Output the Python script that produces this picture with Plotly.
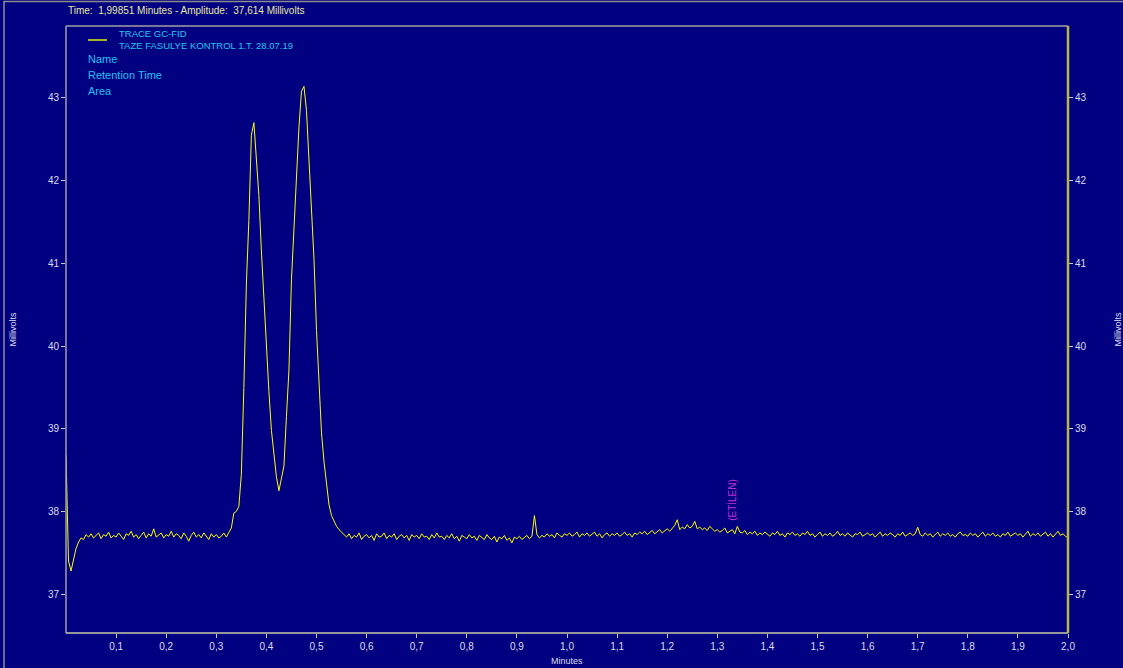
import numpy as np
import plotly.graph_objects as go

# ---------------- data ----------------
sample_interval_min = 0.005
signal_mv = [
    38.68, 37.40, 37.28, 37.42, 37.55, 37.63, 37.68, 37.66, 37.72, 37.69,
    37.73, 37.68, 37.71, 37.74, 37.67, 37.72, 37.70, 37.75, 37.68, 37.71,
    37.69, 37.74, 37.70, 37.66, 37.73, 37.71, 37.76, 37.69, 37.72, 37.67,
    37.71, 37.75, 37.68, 37.73, 37.70, 37.79, 37.69, 37.72, 37.74, 37.68,
    37.72, 37.70, 37.76, 37.69, 37.73, 37.71, 37.67, 37.74, 37.70, 37.64,
    37.71, 37.75, 37.69, 37.72, 37.68, 37.74, 37.70, 37.66, 37.73, 37.69,
    37.72, 37.68, 37.70, 37.74, 37.69, 37.74, 37.80, 37.98, 38.00, 38.06,
    38.45, 39.50, 40.75, 41.52, 42.55, 42.70, 42.30, 41.82, 41.15, 40.55,
    40.05, 39.45, 38.98, 38.71, 38.42, 38.25, 38.38, 38.55, 39.15, 39.71,
    40.80, 41.44, 42.05, 42.65, 43.08, 43.14, 42.85, 42.25, 41.72, 41.05,
    40.19, 39.53, 38.95, 38.60, 38.30, 38.08, 37.95, 37.88, 37.82, 37.78,
    37.75, 37.72, 37.69, 37.73, 37.67, 37.71, 37.69, 37.74, 37.66, 37.70,
    37.72, 37.68, 37.71, 37.65, 37.73, 37.69, 37.70, 37.74, 37.67, 37.71,
    37.69, 37.73, 37.66, 37.70, 37.72, 37.68, 37.71, 37.65, 37.72, 37.69,
    37.71, 37.67, 37.73, 37.69, 37.70, 37.66, 37.72, 37.68, 37.74, 37.69,
    37.70, 37.66, 37.71, 37.68, 37.73, 37.67, 37.70, 37.64, 37.71, 37.69,
    37.67, 37.72, 37.68, 37.70, 37.65, 37.71, 37.69, 37.66, 37.72, 37.68,
    37.66, 37.70, 37.63, 37.69, 37.67, 37.71, 37.65, 37.68, 37.62, 37.69,
    37.67, 37.70, 37.66, 37.69, 37.71, 37.67, 37.70, 37.95, 37.72, 37.68,
    37.71, 37.69, 37.73, 37.70, 37.72, 37.68, 37.74, 37.71, 37.69, 37.73,
    37.71, 37.74, 37.70, 37.72, 37.75, 37.69, 37.73, 37.71, 37.74, 37.70,
    37.72, 37.75, 37.70, 37.73, 37.68, 37.72, 37.74, 37.70, 37.73, 37.71,
    37.74, 37.70, 37.72, 37.75, 37.71, 37.73, 37.69, 37.74, 37.72, 37.75,
    37.73, 37.76, 37.72, 37.74, 37.77, 37.73, 37.75, 37.78, 37.74, 37.77,
    37.79, 37.76, 37.80, 37.83, 37.90, 37.78, 37.81, 37.79, 37.84, 37.80,
    37.82, 37.88, 37.79, 37.81, 37.78, 37.80, 37.77, 37.82, 37.79, 37.76,
    37.78, 37.75, 37.77, 37.80, 37.74, 37.76, 37.78, 37.73, 37.82, 37.75,
    37.74, 37.77, 37.72, 37.75, 37.73, 37.76, 37.71, 37.74, 37.72, 37.75,
    37.73, 37.70, 37.74, 37.72, 37.76, 37.71, 37.73, 37.69, 37.74, 37.72,
    37.75, 37.71, 37.73, 37.70, 37.74, 37.72, 37.76, 37.71, 37.73, 37.69,
    37.72, 37.75, 37.70, 37.73, 37.71, 37.74, 37.70, 37.72, 37.76, 37.71,
    37.73, 37.70, 37.74, 37.71, 37.69, 37.73, 37.72, 37.75, 37.70, 37.72,
    37.74, 37.71, 37.73, 37.69, 37.72, 37.75, 37.70, 37.73, 37.71, 37.74,
    37.72, 37.69, 37.73, 37.71, 37.75, 37.70, 37.72, 37.74, 37.71, 37.73,
    37.81, 37.72, 37.70, 37.74, 37.71, 37.73, 37.69, 37.72, 37.75, 37.70,
    37.73, 37.71, 37.74, 37.70, 37.72, 37.69, 37.73, 37.75, 37.71, 37.72,
    37.70, 37.74, 37.71, 37.73, 37.69, 37.72, 37.75, 37.70, 37.73, 37.71,
    37.74, 37.70, 37.72, 37.69, 37.73, 37.71, 37.75, 37.70, 37.72, 37.74,
    37.71, 37.73, 37.69, 37.72, 37.76, 37.70, 37.73, 37.71, 37.74, 37.70,
    37.72, 37.75, 37.70, 37.73, 37.69, 37.72, 37.76, 37.71, 37.73, 37.70,
    37.68,
]
time_min = np.round(np.arange(len(signal_mv)) * sample_interval_min, 3)

x_tick_vals = [0.1, 0.2, 0.3, 0.4, 0.5, 0.6, 0.7, 0.8, 0.9, 1.0,
               1.1, 1.2, 1.3, 1.4, 1.5, 1.6, 1.7, 1.8, 1.9, 2.0]
x_tick_text = ["0,1", "0,2", "0,3", "0,4", "0,5", "0,6", "0,7", "0,8", "0,9", "1,0",
               "1,1", "1,2", "1,3", "1,4", "1,5", "1,6", "1,7", "1,8", "1,9", "2,0"]
y_tick_vals = [37, 38, 39, 40, 41, 42, 43]
y_tick_text = ["37", "38", "39", "40", "41", "42", "43"]

peak_label = "(ETİLEN)"
peak_label_time = 1.329
peak_label_mv = 37.86

header_text = "Time:  1,99851 Minutes - Amplitude:  37,614 Millivolts"
legend_trace = ["TRACE GC-FID", "TAZE FASULYE KONTROL 1.T. 28.07.19"]
legend_fields = ["Name", "Retention Time", "Area"]

# ---------------- styling ----------------
BG = "#000080"
TICK_COL = "#dcdce8"
FONT = "Liberation Sans, Arial, sans-serif"
X_RANGE = [0, 2.0]
Y_RANGE = [36.53, 43.87]

fig = go.Figure()
fig.add_trace(go.Scatter(
    x=time_min, y=signal_mv, mode="lines",
    line=dict(color="#ffff00", width=1),
    showlegend=False, hoverinfo="x+y",
))
# empty trace to activate right axis
fig.add_trace(go.Scatter(x=[None], y=[None], yaxis="y2", showlegend=False, hoverinfo="skip"))

axis_common = dict(
    showgrid=False, zeroline=False, showline=False,
    ticks="outside", ticklen=4, tickwidth=1, tickcolor="#c8c8c8",
    tickfont=dict(family=FONT, size=10, color=TICK_COL),
)
fig.update_layout(
    width=1123, height=668,
    margin=dict(l=66, r=55, t=26, b=35),
    paper_bgcolor=BG, plot_bgcolor=BG,
    xaxis=dict(range=X_RANGE, tickvals=x_tick_vals, ticktext=x_tick_text, **axis_common),
    yaxis=dict(range=Y_RANGE, tickvals=y_tick_vals, ticktext=y_tick_text, **axis_common),
    yaxis2=dict(range=Y_RANGE, tickvals=y_tick_vals, ticktext=y_tick_text,
                overlaying="y", side="right", **axis_common),
    showlegend=False,
)

shapes = []
# outer frame
shapes.append(dict(type="rect", xref="paper", yref="paper",
                   x0=-62 / 1002, x1=1.2, y0=-0.2, y1=1 + 24.5 / 607,
                   line=dict(color="#8c8c8c", width=1.5), fillcolor="rgba(0,0,0,0)", layer="below"))
# plot frame: top/left gray, bottom light, right olive-yellow
shapes.append(dict(type="line", xref="paper", yref="paper", x0=0, x1=1, y0=1, y1=1,
                   line=dict(color="#a0a0a0", width=1.5)))
shapes.append(dict(type="line", xref="paper", yref="paper", x0=0, x1=0, y0=0, y1=1,
                   line=dict(color="#a0a0a0", width=1.5)))
shapes.append(dict(type="line", xref="paper", yref="paper", x0=0, x1=1, y0=0, y1=0,
                   line=dict(color="#c8c8a8", width=1.5)))
shapes.append(dict(type="line", xref="paper", yref="paper", x0=1, x1=1, y0=0, y1=1,
                   line=dict(color="#b8b840", width=2.5)))
# legend line sample
shapes.append(dict(type="line", xref="paper", yref="paper",
                   x0=22 / 1002, x1=41 / 1002, y0=1 - 14 / 607, y1=1 - 14 / 607,
                   line=dict(color="#e8e800", width=1.5)))
fig.update_layout(shapes=shapes)

ann = []
ann.append(dict(text=header_text, xref="paper", yref="paper", x=0, y=1 + 16 / 607,
                xanchor="left", yanchor="middle", showarrow=False,
                font=dict(family=FONT, size=10, color="#e8e8a0")))
for i, t in enumerate(legend_trace):
    ann.append(dict(text=t, xref="paper", yref="paper", x=51 / 1002, y=1 - (7 + 12 * i) / 607,
                    xanchor="left", yanchor="middle", showarrow=False,
                    font=dict(family=FONT, size=9.5, color="#20c8f0")))
for i, t in enumerate(legend_fields):
    ann.append(dict(text=t, xref="paper", yref="paper", x=20 / 1002, y=1 - (33 + 16 * i) / 607,
                    xanchor="left", yanchor="middle", showarrow=False,
                    font=dict(family=FONT, size=11, color="#20c0f0")))
ann.append(dict(text=peak_label, x=peak_label_time, y=peak_label_mv, xref="x", yref="y",
                textangle=-90, xanchor="center", yanchor="bottom", showarrow=False,
                font=dict(family=FONT, size=10, color="#c030d0")))
ann.append(dict(text="Millivolts", xref="paper", yref="paper", x=-54 / 1002, y=0.5,
                textangle=-90, xanchor="center", yanchor="middle", showarrow=False,
                font=dict(family=FONT, size=9, color=TICK_COL)))
ann.append(dict(text="Millivolts", xref="paper", yref="paper", x=1 + 49 / 1002, y=0.5,
                textangle=-90, xanchor="center", yanchor="middle", showarrow=False,
                font=dict(family=FONT, size=9, color=TICK_COL)))
ann.append(dict(text="Minutes", xref="paper", yref="paper", x=0.5, y=-28 / 607,
                xanchor="center", yanchor="middle", showarrow=False,
                font=dict(family=FONT, size=9, color=TICK_COL)))
fig.update_layout(annotations=ann)

fig.write_html(
    "out.html",
    config={"displayModeBar": False},
    post_script="document.body.style.margin='0';document.body.style.background='#000080';",
)
